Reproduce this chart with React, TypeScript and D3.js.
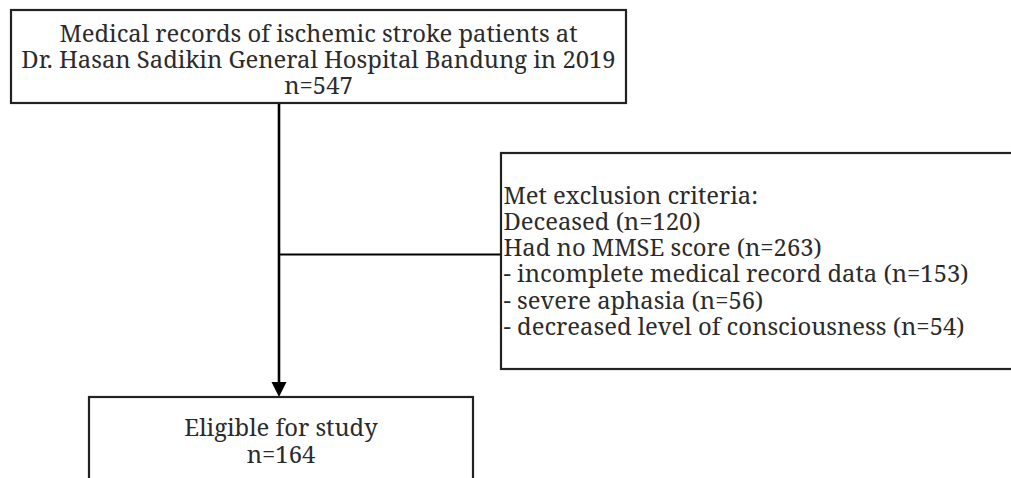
import React from "react";
import * as d3 from "d3";

const topBoxLines = [
  "Medical records of ischemic stroke patients at",
  "Dr. Hasan Sadikin General Hospital Bandung in 2019",
  "n=547",
];
const exclusionLines = [
  "Met exclusion criteria:",
  "Deceased (n=120)",
  "Had no MMSE score (n=263)",
  "- incomplete medical record data (n=153)",
  "- severe aphasia (n=56)",
  "- decreased level of consciousness (n=54)",
];
const bottomBoxLines = ["Eligible for study", "n=164"];

const W = 1011;
const H = 478;
const FONT = "'Noto Serif', 'DejaVu Serif', serif";
const FS = 23.8;
const TEXT = "#2b2b2b";
const BOX = "#222";

export default function App() {
  const topBox = { x: 11, y: 10, w: 615, h: 93 };
  const exBox = { x: 501, y: 153, w: 540, h: 216 };
  const botBox = { x: 89, y: 397, w: 384, h: 100 };
  const cx = 279;
  const branchY = 254.5;
  const topLineY = d3.scaleLinear().domain([0, 1]).range([41.5, 67.8]);
  const exLineY = d3.scaleLinear().domain([0, 1]).range([203.5, 229.8]);
  const botLineY = d3.scaleLinear().domain([0, 1]).range([436, 462.5]);
  return (
    <svg width={W} height={H} style={{ position: "absolute", left: 0, top: 0, background: "#fff" }}>
      <rect x={topBox.x} y={topBox.y} width={topBox.w} height={topBox.h} fill="none" stroke={BOX} strokeWidth={2.2} />
      {topBoxLines.map((t, i) => (
        <text key={i} x={topBox.x + topBox.w / 2} y={topLineY(i)} textAnchor="middle" fontFamily={FONT} fontSize={FS} fill={TEXT}>{t}</text>
      ))}
      <line x1={cx} y1={topBox.y + topBox.h + 1} x2={cx} y2={384} stroke="#000" strokeWidth={2.6} />
      <path d={`M${cx - 7.5},382 L${cx + 7.5},382 L${cx},397 Z`} fill="#000" />
      <line x1={cx} y1={branchY} x2={exBox.x} y2={branchY} stroke="#000" strokeWidth={2} />
      <rect x={exBox.x} y={exBox.y} width={exBox.w} height={exBox.h} fill="none" stroke={BOX} strokeWidth={2.2} />
      {exclusionLines.map((t, i) => (
        <text key={i} x={exBox.x + 2.5} y={exLineY(i)} fontFamily={FONT} fontSize={FS} fill={TEXT}>{t}</text>
      ))}
      <rect x={botBox.x} y={botBox.y} width={botBox.w} height={botBox.h} fill="none" stroke={BOX} strokeWidth={2.2} />
      {bottomBoxLines.map((t, i) => (
        <text key={i} x={botBox.x + botBox.w / 2} y={botLineY(i)} textAnchor="middle" fontFamily={FONT} fontSize={FS} fill={TEXT}>{t}</text>
      ))}
    </svg>
  );
}
